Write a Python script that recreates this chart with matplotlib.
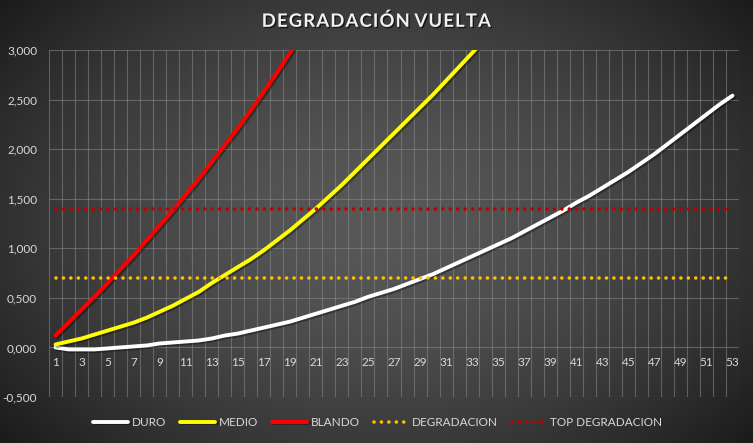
import numpy as np
import matplotlib
matplotlib.use("Agg")
import matplotlib.pyplot as plt
import matplotlib.patheffects as pe
from matplotlib.ticker import FuncFormatter, MultipleLocator

# data (lap degradation per tyre compound)
laps = list(range(1, 54))
duro = [0.00, -0.02, -0.02, -0.02, -0.01, 0.00, 0.01, 0.02, 0.04, 0.05,
        0.06, 0.07, 0.09, 0.12, 0.14, 0.17, 0.20, 0.23, 0.26, 0.30,
        0.34, 0.38, 0.42, 0.46, 0.51, 0.55, 0.59, 0.64, 0.69, 0.74,
        0.80, 0.86, 0.92, 0.98, 1.04, 1.10, 1.17, 1.24, 1.31, 1.38,
        1.46, 1.53, 1.61, 1.69, 1.77, 1.86, 1.95, 2.05, 2.15, 2.25,
        2.35, 2.45, 2.54]
medio = [0.03, 0.06, 0.09, 0.13, 0.17, 0.21, 0.25, 0.30, 0.36, 0.42,
         0.49, 0.56, 0.65, 0.73, 0.81, 0.89, 0.98, 1.08, 1.18, 1.29,
         1.40, 1.52, 1.64, 1.77, 1.90, 2.03, 2.16, 2.29, 2.42, 2.55,
         2.69, 2.83, 2.97, 3.11]
blando = [0.12, 0.25, 0.38, 0.51, 0.65, 0.79, 0.93, 1.08, 1.23, 1.38,
          1.54, 1.70, 1.87, 2.04, 2.21, 2.39, 2.58, 2.77, 2.97, 3.17]
degradacion = 0.70
top_degradacion = 1.40

txt = "#d9d9d9"
grid_c = "#8a8a8a"
fam = ["Lato", "DejaVu Sans"]

fig = plt.figure(figsize=(7.53, 4.43), dpi=100)

# radial dark background
bg = fig.add_axes([0, 0, 1, 1], zorder=-10)
gx, gy = np.meshgrid(np.linspace(-1, 1, 400), np.linspace(-1, 1, 240))
r = np.sqrt((gx / 1.05) ** 2 + (gy / 1.25) ** 2)
shade = 0.345 - 0.17 * np.clip(r, 0, 1.3) ** 1.6
bg.imshow(np.dstack([shade] * 3), aspect="auto", extent=[0, 1, 0, 1])
bg.axis("off")

ax = fig.add_axes([0.0651, 0.1038, 0.9163, 0.7833])
ax.set_facecolor("none")

shadow = [pe.SimpleLineShadow(offset=(1.2, -1.2), alpha=0.35, shadow_color="black"), pe.Normal()]
dots = (0, (0.01, 2.05))

ax.plot(laps, duro, color="white", lw=2.8, label="DURO", solid_capstyle="round", path_effects=shadow)
ax.plot(laps[:len(medio)], medio, color="#ffff00", lw=2.8, label="MEDIO", solid_capstyle="round", path_effects=shadow)
ax.plot(laps[:len(blando)], blando, color="#ff0000", lw=2.8, label="BLANDO", solid_capstyle="round", path_effects=shadow)
ax.plot(laps, [degradacion] * len(laps), color="#ffc000", lw=2.6, linestyle=dots,
        dash_capstyle="round", label="DEGRADACION")
ax.plot(laps, [top_degradacion] * len(laps), color="#c00000", lw=2.6, linestyle=dots,
        dash_capstyle="round", label="TOP DEGRADACION")

ax.set_xlim(0.5, 53.5)
ax.set_ylim(-0.5, 3.0)

# grid: horizontal every 0.5, vertical at category boundaries
for yv in np.arange(-0.5, 3.01, 0.5):
    ax.axhline(yv, color=grid_c, lw=0.8, alpha=0.55, zorder=0)
for xv in np.arange(0.5, 53.6, 1):
    ax.axvline(xv, color=grid_c, lw=0.8, alpha=0.55, zorder=0)

for s in ["top", "left", "right"]:
    ax.spines[s].set_visible(False)
ax.spines["bottom"].set_position(("data", 0))
ax.spines["bottom"].set_visible(False)

ax.set_xticks(laps[::2])
ax.set_xticklabels([str(v) for v in laps[::2]])
ax.yaxis.set_major_locator(MultipleLocator(0.5))
ax.yaxis.set_major_formatter(FuncFormatter(lambda v, p: f"{v:,.3f}".replace(".", ",")))
ax.tick_params(axis="x", length=0, pad=7, colors=txt, labelsize=8.5)
ax.tick_params(axis="y", length=0, pad=8.5, colors=txt, labelsize=8.5)
for lab in ax.get_xticklabels() + ax.get_yticklabels():
    lab.set_fontfamily(fam)

title = "\u200a".join("DEGRADACIÓN") + "\u2009\u2009" + "\u200a".join("VUELTA")
fig.text(0.5, 0.953, title, ha="center", va="center",
         color="#f2f2f2", fontsize=13.3, fontweight="bold", family=fam,
         path_effects=[pe.withSimplePatchShadow(offset=(1, -1), alpha=0.6, shadow_rgbFace="black")])

leg = fig.legend(loc="center", bbox_to_anchor=(0.502, 0.047), ncol=5, frameon=False,
                 handlelength=2.95, columnspacing=1.2, handletextpad=0.3,
                 prop={"family": fam, "size": 8.5})
for t in leg.get_texts():
    t.set_color(txt)

fig.savefig("out.png", dpi=100)
